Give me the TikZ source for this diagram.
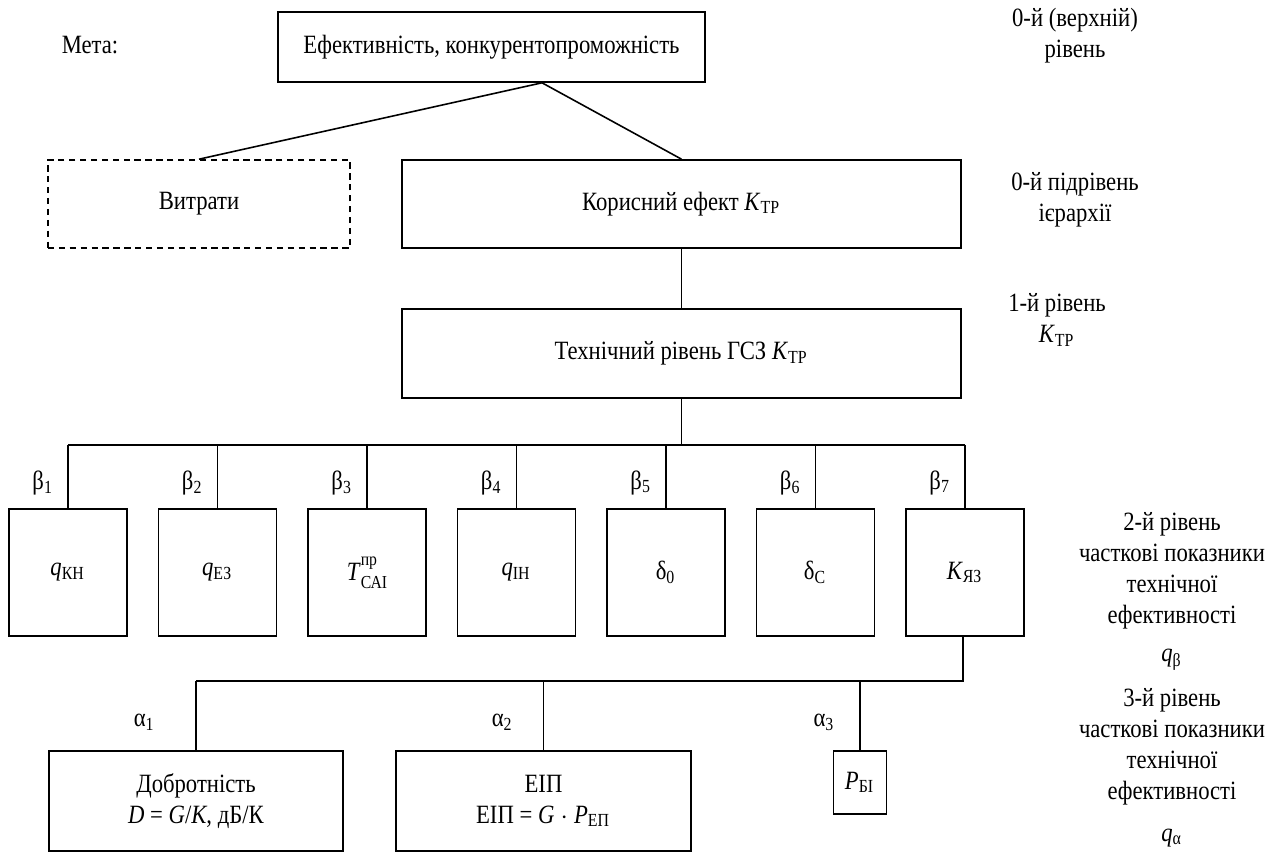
\documentclass[tikz,border=0pt]{standalone}
\usepackage{fontspec}
\setmainfont[FakeStretch=0.86]{Liberation Serif}
\usetikzlibrary{positioning, calc}
\newcommand{\itind}[2]{\textit{#1}\textsubscript{#2}}
\newcommand{\smallidx}{\fontsize{5.2}{6}\selectfont}

\begin{document}
\begin{tikzpicture}[x=0.01cm, y=-0.01cm, line width=0.45pt,
  font=\fontsize{7.5}{8.8}\selectfont,
  box/.style={draw, inner sep=0pt, align=center},
  qbox/.style={box, minimum width=1.18cm, minimum height=1.27cm},
  lbl/.style={align=center, inner sep=0pt}]
\useasboundingbox (0,0) rectangle (1265,852);

% levels 0 and 1
\node (meta) at (90,45) {Мета:};
\node[box, minimum width=4.27cm, minimum height=0.7cm] (goal) at (491.5,47) {Ефективність, конкурентопроможність};
\node[box, dash pattern=on 1.8pt off 1.3pt, minimum width=3.02cm, minimum height=0.88cm] (cost) at (199,204) {Витрати};
\node[box, minimum width=5.59cm, minimum height=0.88cm] (effect) at (681.5,204) {Корисний ефект \itind{K}{ТР}};
\node[box, minimum width=5.59cm, minimum height=0.89cm] (tech) at (681.5,353.5) {Технічний рівень ГСЗ \itind{K}{ТР}};

\coordinate (gj) at ([xshift=0.505cm]goal.south);
\draw (gj) -- (cost.north);
\draw (gj) -- (effect.north);
\draw (effect.south) -- (tech.north);

% level 2
\node[qbox] (q1) at (68,572.5) {\itind{q}{КН}};
\node[qbox] (q2) at (217.5,572.5) {\itind{q}{ЕЗ}};
\node[qbox] (q3) at (367,572.5) {\textit{T}\rlap{\raisebox{1.3ex}{\smallidx пр}}\raisebox{-0.6ex}{\smallidx САІ}};
\node[qbox] (q4) at (516.5,572.5) {\itind{q}{ІН}};
\node[qbox] (q5) at (666,572.5) {δ\textsubscript{0}};
\node[qbox] (q6) at (815.5,572.5) {δ\textsubscript{С}};
\node[qbox] (q7) at (965,572.5) {\itind{K}{ЯЗ}};

\coordinate (bbus) at (681.5,445);
\draw (tech.south) -- (bbus);
\draw (q1.north |- bbus) -- (q7.north |- bbus);
\foreach \i in {1,...,7}
  \draw (q\i.north |- bbus) -- node[pos=0.6, left=0.5pt] {β\textsubscript{\i}} (q\i.north);

% level 3
\node[box, minimum width=2.94cm, minimum height=1.0cm] (quality) at (196,801) {Добротність\\\textit{D} = \textit{G}/\textit{K}, дБ/К};
\node[box, minimum width=2.95cm, minimum height=1.0cm] (eirp) at (543.5,801) {ЕІП\\ЕІП = \textit{G} $\cdot$ \itind{P}{ЕП}};
\node[box, minimum width=0.53cm, minimum height=0.63cm] (pbi) at (860,782.5) {\itind{P}{БІ}};

\coordinate (abus) at (963,681);
\draw (q7.south -| abus) -- (abus) -- (quality.north |- abus);
\draw (quality.north |- abus) -- node[pos=0.6, left=8pt] {α\textsubscript{1}} (quality.north);
\draw (eirp.north |- abus) -- node[pos=0.6, left=5pt] {α\textsubscript{2}} (eirp.north);
\draw (pbi.north |- abus) -- node[pos=0.6, left=3.5pt] {α\textsubscript{3}} (pbi.north);

% level captions
\node[lbl] (lv0) at (1075,36) {0-й (верхній)\\рівень};
\node[lbl] (lv0s) at (1075,200) {0-й підрівень\\ієрархії};
\node[lbl] (lv1) at (1057,320) {1-й рівень\\\itind{K}{ТР}};
\node[lbl, anchor=north] (lv2) at (1172,512) {2-й рівень\\часткові показники\\технічної\\ефективності\\[2pt]\itind{q}{β}};
\node[lbl, anchor=north] (lv3) at (1172,688) {3-й рівень\\часткові показники\\технічної\\ефективності\\[3pt]\itind{q}{α}};
\end{tikzpicture}
\end{document}
